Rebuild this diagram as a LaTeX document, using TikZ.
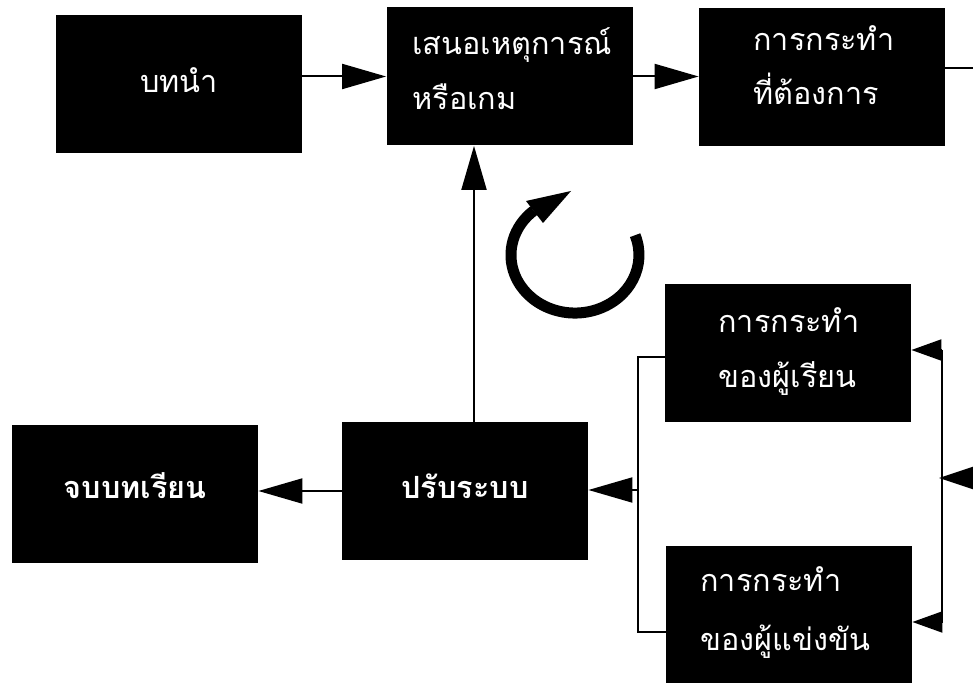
\documentclass[tikz,border=0pt]{standalone}
\usepackage{fontspec}
\newfontfamily\thaifont[Script=Thai]{Loma}
\usetikzlibrary{arrows.meta}
\begin{document}
\begin{tikzpicture}[x=0.5pt,y=-0.5pt,
  box/.style={fill=black, draw=none, inner sep=0pt, minimum width=123pt, minimum height=69pt},
  txt/.style={text=white, inner sep=0pt, font=\thaifont\fontsize{15.3pt}{18pt}\selectfont},
  btxt/.style={txt, font=\thaifont\bfseries\fontsize{15.3pt}{18pt}\selectfont},
  arr/.style={line width=1pt, -{Triangle[length=22pt,width=12.5pt]}},
  sarr/.style={line width=1pt, -{Triangle[length=15pt,width=10.5pt]}},
  marr/.style={line width=1pt, -{Triangle[length=17pt,width=11pt]}},
  conn/.style={line width=1pt}]
\useasboundingbox (0,0) rectangle (973,683);
% boxes
\node[box] (intro)   at (179,84)    {};
\node[box] (present) at (509.5,76.5) {};
\node[box] (action)  at (822,77.5)  {};
\node[box] (learner) at (788,353.5) {};
\node[box] (adjust)  at (465,491)   {};
\node[box] (endb)    at (135,494)   {};
\node[box] (comp)    at (789,615)   {};
% texts
\node[txt, anchor=base] (intro-t) at (179,93) {บทนำ};
\node[txt, anchor=base west] (present-t1) at (412,55) {เสนอเหตุการณ์};
\node[txt, anchor=base west] (present-t2) at (412,110) {หรือเกม};
\node[txt, anchor=base west] (action-t1) at (753,51) {การกระทำ};
\node[txt, anchor=base west] (action-t2) at (753,105) {ที่ต้องการ};
\node[txt, anchor=base west] (learner-t1) at (718,333) {การกระทำ};
\node[txt, anchor=base west] (learner-t2) at (718,388) {ของผู้เรียน};
\node[txt, anchor=base west] (comp-t1) at (700,591) {การกระทำ};
\node[txt, anchor=base west] (comp-t2) at (700,650) {ของผู้แข่งขัน};
\node[btxt, anchor=base] (adjust-t) at (465,498) {ปรับระบบ};
\node[btxt, anchor=base] (endb-t) at (135,498) {จบบทเรียน};
% helper coordinates
\coordinate (exit) at (973,68);
\coordinate (vx) at (474,0);
\coordinate (bl) at (638,0);
\coordinate (ytop) at (0,357);
\coordinate (ybot) at (0,632);
\coordinate (ymid) at (0,490);
\coordinate (rv1) at (942,350);
\coordinate (rv2) at (942,622);
\coordinate (rvm) at (939,478);
\coordinate (rin) at (985,478);
% connectors
\draw[arr] (intro.east |- present.west) -- (present.west);
\draw[arr] (present.east) -- (action.west |- present.east);
\draw[conn] (action.east |- exit) -- (exit);
\draw[arr] (adjust.north -| vx) -- (present.south -| vx);
\draw[arr] (adjust.west) -- (endb.east |- adjust.west);
\draw[conn] (learner.west |- ytop) -- (bl |- ytop) -- (bl |- ybot) -- (comp.west |- ybot);
\draw[arr] (bl |- ymid) -- (adjust.east |- ymid);
\draw[conn] (rv1) -- (rv2);
\draw[sarr] (rv1) -- (learner.east |- rv1);
\draw[sarr] (rv2) -- (comp.east |- rv2);
\draw[marr] (rin) -- (rvm);
% cycle arrow
\draw[line width=5.5pt] (635.1,235.2) arc[start angle=-20, end angle=230, x radius=64, y radius=58];
\fill (571,191) -- (526,201) -- (543,223) -- cycle;
\end{tikzpicture}
\end{document}
